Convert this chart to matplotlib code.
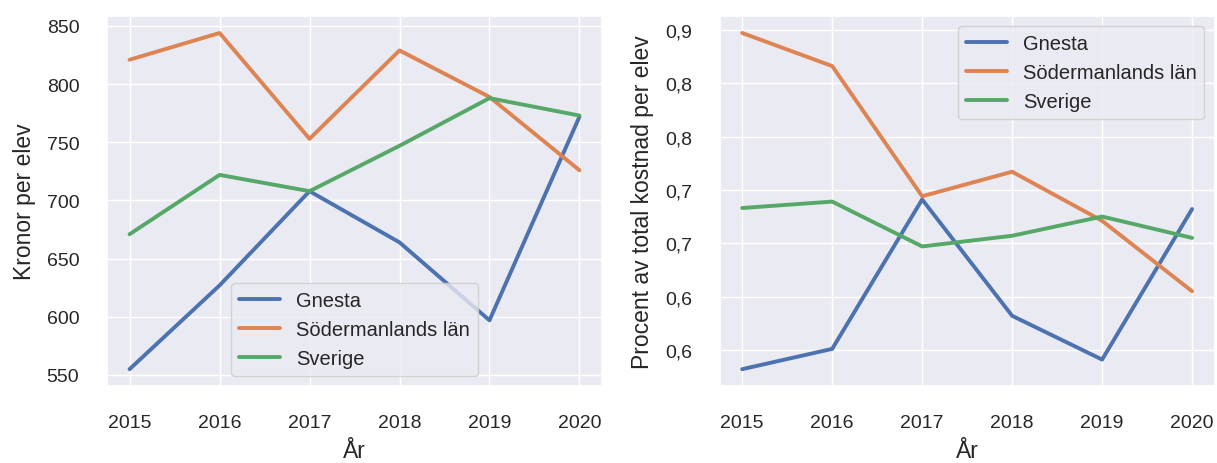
import numpy as np
import matplotlib
matplotlib.use("Agg")
import matplotlib.pyplot as plt
import seaborn as sns
from matplotlib.ticker import FuncFormatter

sns.set_theme(style="darkgrid")
plt.rcParams['font.family'] = ['Arial', 'Liberation Sans', 'DejaVu Sans']

years = [2015, 2016, 2017, 2018, 2019, 2020]
series = ["Gnesta", "Södermanlands län", "Sverige"]

# Kronor per elev
kr_gnesta = [555, 627, 708, 664, 597, 772]
kr_sodermanland = [821, 844, 753, 829, 789, 726]
kr_sverige = [671, 722, 708, 747, 788, 773]

# Procent av total kostnad per elev
pct_gnesta = [0.557, 0.576, 0.716, 0.607, 0.566, 0.707]
pct_sodermanland = [0.872, 0.841, 0.719, 0.742, 0.696, 0.630]
pct_sverige = [0.708, 0.714, 0.672, 0.682, 0.700, 0.680]

fig, (ax1, ax2) = plt.subplots(1, 2, figsize=(12.17, 4.64), dpi=100)
fig.subplots_adjust(left=0.088, right=0.998, top=0.963, bottom=0.166, wspace=0.238)

for vals, name in zip([kr_gnesta, kr_sodermanland, kr_sverige], series):
    ax1.plot(years, vals, lw=2.8, label=name)
ax1.set_ylabel("Kronor per elev", fontsize=16.5, labelpad=8)
ax1.legend(loc="lower center", fontsize=14.5)

for vals, name in zip([pct_gnesta, pct_sodermanland, pct_sverige], series):
    ax2.plot(years, vals, lw=2.8, label=name)
ax2.set_ylabel("Procent av total kostnad per elev", fontsize=16.5, labelpad=8)
ax2.set_yticks(np.arange(0.575, 0.9, 0.05))
ax2.yaxis.set_major_formatter(FuncFormatter(lambda v, p: f"{v:.1f}".replace(".", ",")))
ax2.legend(loc="upper right", fontsize=14.5)

for ax in (ax1, ax2):
    ax.set_xticks(years)
    ax.set_xlabel("År", fontsize=16.5, labelpad=6)
    ax.tick_params(labelsize=14, pad=14)

fig.savefig("out.png")
